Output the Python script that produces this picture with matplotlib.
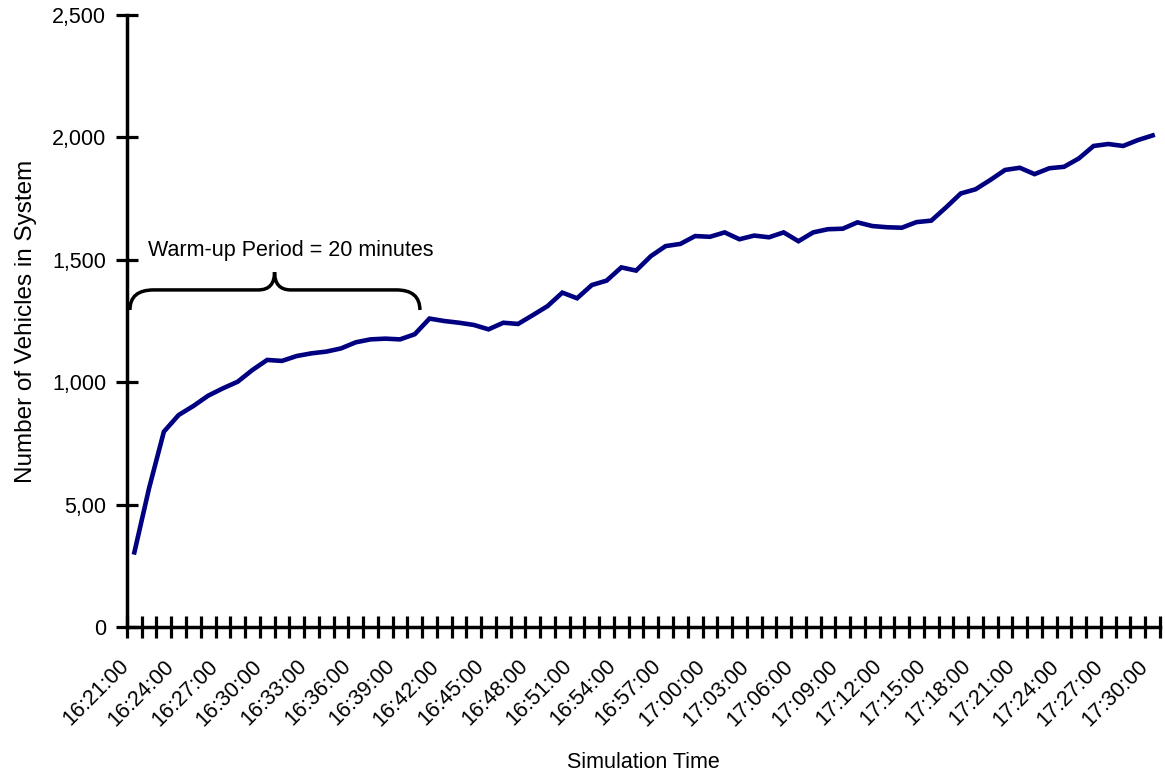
import matplotlib
matplotlib.use("Agg")
import matplotlib.pyplot as plt
import matplotlib.transforms as mtransforms
from matplotlib.path import Path
from matplotlib.patches import PathPatch
from matplotlib.ticker import FixedLocator, FixedFormatter

plt.rcParams['font.family'] = ['Liberation Sans', 'DejaVu Sans']

# one value per minute, 16:21 .. 17:30
times = ["%d:%02d:00" % divmod(16 * 60 + 21 + i, 60) for i in range(70)]
vehicles = [305, 568, 798, 866, 903, 945, 975, 1002, 1050, 1091,
            1087, 1107, 1118, 1125, 1138, 1163, 1175, 1178, 1175, 1196,
            1260, 1250, 1243, 1234, 1216, 1243, 1238, 1274, 1311, 1366,
            1343, 1397, 1415, 1469, 1456, 1515, 1556, 1565, 1597, 1594,
            1612, 1584, 1599, 1592, 1612, 1576, 1612, 1625, 1627, 1653,
            1638, 1633, 1631, 1654, 1660, 1714, 1771, 1788, 1826, 1867,
            1876, 1850, 1874, 1880, 1914, 1965, 1973, 1965, 1989, 2008]
y_ticks = [0, 500, 1000, 1500, 2000, 2500]
y_labels = ["0", "5,00", "1,000", "1,500", "2,000", "2,500"]
warmup_text = "Warm-up Period = 20 minutes"

fig = plt.figure(figsize=(11.65, 7.77), dpi=100)
ax = fig.add_axes([0.109, 0.193, 0.8867, 0.7877])

x = list(range(len(vehicles)))
ax.plot(x, vehicles, color="#000080", linewidth=3.3, solid_joinstyle="miter")

ax.set_xlim(-0.5, len(vehicles) - 0.5)
ax.set_ylim(0, 2500)

for s in ["top", "right"]:
    ax.spines[s].set_visible(False)
for s in ["left", "bottom"]:
    ax.spines[s].set_linewidth(2.5)

ax.yaxis.set_major_locator(FixedLocator(y_ticks))
ax.yaxis.set_major_formatter(FixedFormatter(y_labels))
ax.tick_params(axis="y", direction="inout", length=16, width=2.3, labelsize=15.5, pad=7)

# labels every 3 minutes at category centres, tick marks on category boundaries
lab_pos = x[::3]
ax.xaxis.set_major_locator(FixedLocator(lab_pos))
ax.xaxis.set_major_formatter(FixedFormatter(times[::3]))
ax.xaxis.set_minor_locator(FixedLocator([i - 0.5 for i in range(len(vehicles) + 1)]))
ax.tick_params(axis="x", which="major", length=0, labelsize=15.5, pad=26)
ax.tick_params(axis="x", which="minor", direction="inout", length=16, width=2.3)
shift = mtransforms.ScaledTranslation(-8 / 100, 0, fig.dpi_scale_trans)
for lab in ax.get_xticklabels():
    lab.set_rotation(45)
    lab.set_ha("right")
    lab.set_va("center")
    lab.set_rotation_mode("anchor")
    lab.set_transform(lab.get_transform() + shift)

ax.set_xlabel("Simulation Time", fontsize=15.5, labelpad=16)
ax.set_ylabel("Number of Vehicles in System", fontsize=17.5, labelpad=11)

# curly brace over the warm-up period
x0, x1, xm = -0.3, 19.35, 9.5
yb, yh, yt = 1295, 1377, 1450
r = 1.6
rm = 1.1
verts = [(x0, yb), (x0, yh), (x0 + r, yh),
         (xm - rm, yh),
         (xm, yh), (xm, yt),
         (xm, yh), (xm + rm, yh),
         (x1 - r, yh),
         (x1, yh), (x1, yb)]
codes = [Path.MOVETO, Path.CURVE3, Path.CURVE3,
         Path.LINETO,
         Path.CURVE3, Path.CURVE3,
         Path.CURVE3, Path.CURVE3,
         Path.LINETO,
         Path.CURVE3, Path.CURVE3]
ax.add_patch(PathPatch(Path(verts, codes), facecolor="none", edgecolor="black",
                       linewidth=2.5, clip_on=False))
ax.text(0.92, 1540, warmup_text, fontsize=15.5, ha="left", va="center")

fig.savefig("out.png", dpi=100)
